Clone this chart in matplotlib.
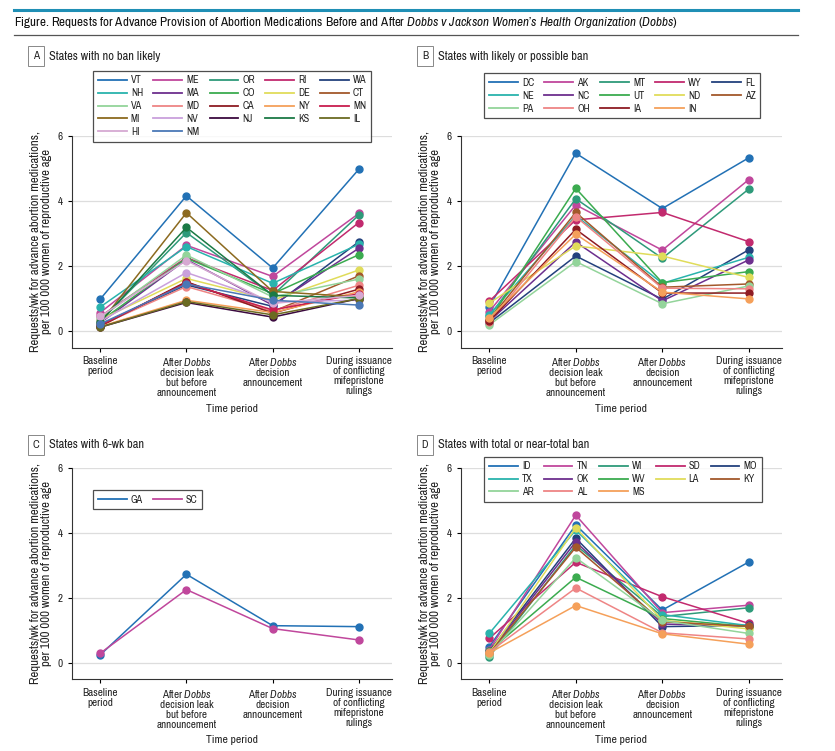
import matplotlib.pyplot as plt
from matplotlib import font_manager as fm
from matplotlib.lines import Line2D

# the journal uses a condensed face; take a narrow one if the system has it
narrow = None
for f in fm.fontManager.ttflist:
    if 'Narrow' in f.name or 'Condensed' in f.name:
        narrow = f.name
        break
    if f.stretch in ('condensed', 'semi-condensed') and f.name == 'DejaVu Sans':
        narrow = 'DejaVu Sans'
if narrow is None:
    fam = 'Liberation Sans'
    fs = 0.92
else:
    fam = narrow
    fs = 1.08
plt.rcParams['font.family'] = [fam, 'DejaVu Sans']
if narrow == 'DejaVu Sans':
    plt.rcParams['font.stretch'] = 'condensed'
plt.rcParams['mathtext.fontset'] = 'custom'
plt.rcParams['mathtext.rm'] = fam
plt.rcParams['mathtext.it'] = fam + ':italic'

periods = ['Baseline\nperiod',
           'After $\\mathit{Dobbs}$\ndecision leak\nbut before\nannouncement',
           'After $\\mathit{Dobbs}$\ndecision\nannouncement',
           'During issuance\nof conflicting\nmifepristone\nrulings']

# requests per week per 100 000 women, one list per state, 4 periods
states_a = ['VT', 'ME', 'OR', 'RI', 'WA', 'NH', 'MA', 'CO', 'DE', 'CT', 'VA',
            'MD', 'CA', 'NY', 'MN', 'MI', 'NV', 'NJ', 'KS', 'IL', 'HI', 'NM']
rates_a = [[0.98, 4.16, 1.94, 4.98],
           [0.57, 2.64, 1.68, 3.62],
           [0.30, 3.03, 1.10, 3.57],
           [0.45, 2.26, 1.25, 3.34],
           [0.20, 1.42, 0.76, 2.75],
           [0.74, 2.60, 1.47, 2.67],
           [0.25, 2.20, 0.80, 2.55],
           [0.30, 2.24, 1.15, 2.35],
           [0.35, 1.62, 0.95, 1.88],
           [0.15, 1.50, 0.60, 1.70],
           [0.40, 2.34, 1.05, 1.60],
           [0.18, 1.37, 0.62, 1.41],
           [0.15, 1.52, 0.55, 1.29],
           [0.14, 0.95, 0.57, 1.21],
           [0.18, 1.48, 0.65, 1.15],
           [0.25, 3.64, 1.22, 1.05],
           [0.30, 1.80, 0.90, 0.95],
           [0.12, 0.88, 0.43, 1.00],
           [0.28, 3.19, 1.10, 1.02],
           [0.12, 0.91, 0.50, 1.00],
           [0.45, 2.17, 0.85, 1.10],
           [0.22, 1.45, 0.95, 0.80]]

states_b = ['DC', 'AK', 'MT', 'WY', 'FL', 'NE', 'NC', 'UT', 'ND', 'AZ',
            'PA', 'OH', 'IA', 'IN']
rates_b = [[0.74, 5.47, 3.77, 5.33],
           [0.60, 3.88, 2.49, 4.66],
           [0.45, 4.07, 2.24, 4.37],
           [0.92, 3.42, 3.65, 2.75],
           [0.25, 2.31, 0.98, 2.50],
           [0.50, 3.55, 1.47, 2.27],
           [0.30, 2.74, 0.93, 2.19],
           [0.33, 4.39, 1.49, 1.83],
           [0.86, 2.62, 2.31, 1.65],
           [0.35, 3.65, 1.35, 1.45],
           [0.19, 2.14, 0.84, 1.39],
           [0.28, 3.52, 1.32, 1.30],
           [0.30, 3.13, 1.17, 1.17],
           [0.40, 2.98, 1.20, 0.99]]

states_c = ['GA', 'SC']
rates_c = [[0.24, 2.72, 1.14, 1.11],
           [0.29, 2.25, 1.05, 0.70]]

states_d = ['ID', 'TN', 'WI', 'SD', 'MO', 'TX', 'OK', 'WV', 'LA', 'KY',
            'AR', 'AL', 'MS']
rates_d = [[0.49, 4.24, 1.62, 3.10],
           [0.40, 4.54, 1.54, 1.77],
           [0.18, 3.62, 1.42, 1.69],
           [0.75, 3.09, 2.03, 1.21],
           [0.35, 3.83, 1.11, 1.15],
           [0.90, 4.08, 1.48, 1.14],
           [0.30, 3.72, 1.19, 1.13],
           [0.36, 2.63, 1.36, 1.11],
           [0.30, 4.15, 1.31, 1.04],
           [0.28, 3.55, 1.26, 1.12],
           [0.25, 3.23, 1.30, 0.90],
           [0.33, 2.30, 0.92, 0.73],
           [0.30, 1.76, 0.89, 0.57]]

colors_a = ['#2271b5', '#c0479c', '#2e9a7a', '#c22a6e', '#23417d', '#29b3ad',
            '#6d2f8e', '#3bab4f', '#e0dc5a', '#a3582b', '#93d49a', '#ee8585',
            '#8e1b23', '#f5a05a', '#c81e4e', '#8c6a1f', '#c9a0dc', '#3b0a3f',
            '#1b7a45', '#6b6b22', '#d6a9d2', '#4a78b6']
colors_b = colors_a[:14]
colors_c = colors_a[:2]
colors_d = colors_a[:13]
colors_d[12] = '#f5a05a'

W, H = 835, 751
fig = plt.figure( figsize=(W/100, H/100), dpi=100 )

def px_axes( x0, y0, x1, y1 ):
    return fig.add_axes( [x0/W, 1 - y1/H, (x1 - x0)/W, (y1 - y0)/H] )

def panel( ax, states, rates, colors, anchor ):
    for st, r, c in zip( states, rates, colors ):
        ax.plot( range(len(periods)), r, color=c, lw=1.1, marker='o',
                 markersize=5, label=st )
    ax.set_xlim( -0.33, 3.38 )
    ax.set_ylim( -0.51, 6 )
    ax.set_yticks( [0, 2, 4, 6] )
    ax.set_xticks( range(len(periods)) )
    ax.set_xticklabels( periods, fontsize=7.4*fs, color='#222222',
                        linespacing=1.0 )
    ax.tick_params( axis='y', labelsize=7.4*fs, labelcolor='#222222', length=3 )
    ax.tick_params( axis='x', length=3, pad=3 )
    ax.grid( axis='y', color='#dddddd', lw=0.9 )
    ax.set_axisbelow( True )
    for s in ['top', 'right']:
        ax.spines[s].set_visible( False )
    for s in ['left', 'bottom']:
        ax.spines[s].set_color( '#333333' )
    ax.set_xlabel( 'Time period', fontsize=7.8*fs, color='#222222', labelpad=4 )
    ax.set_ylabel( 'Requests/wk for advance abortion medications,\n'
                   'per 100 000 women of reproductive age',
                   fontsize=8.5*fs, color='#222222', labelpad=4,
                   linespacing=1.05 )
    # legend filled row by row, like the original
    ncol = min( 5, len(states) )
    n = len(states)
    order = [i for c in range(ncol) for i in range(c, n, ncol)]
    hs = [Line2D([], [], color=colors[i], lw=1.3) for i in order]
    ls = [states[i] for i in order]
    leg = ax.legend( hs, ls, ncol=ncol, loc='upper left', bbox_to_anchor=anchor,
                     fontsize=7.4, frameon=True, fancybox=False,
                     edgecolor='#222222', handlelength=2.8, handletextpad=0.4,
                     columnspacing=1.0, labelspacing=0.28, borderpad=0.45,
                     borderaxespad=0 )
    leg.get_frame().set_linewidth( 0.9 )
    for t in leg.get_texts():
        t.set_color( '#222222' )

ax_a = px_axes( 71.7, 136, 391.7, 347.7 )
ax_b = px_axes( 460.7, 136, 781.7, 347.7 )
ax_c = px_axes( 71.7, 467.7, 391.7, 679.3 )
ax_d = px_axes( 460.7, 467.7, 781.7, 679.3 )

panel( ax_a, states_a, rates_a, colors_a, (0.0675, 1.308) )
panel( ax_b, states_b, rates_b, colors_b, (0.0735, 1.296) )
panel( ax_c, states_c, rates_c, colors_c, (0.0675, 0.895) )
panel( ax_d, states_d, rates_d, colors_d, (0.0735, 1.052) )

# panel letters and headings
heads = [('A', 'States with no ban likely', 36, 56),
         ('B', 'States with likely or possible ban', 425, 56),
         ('C', 'States with 6-wk ban', 36, 445),
         ('D', 'States with total or near-total ban', 425, 445)]
for letter, txt, x, y in heads:
    fig.text( x/W, 1 - y/H, letter, fontsize=7.5*fs, fontweight='bold',
              ha='center', va='center', color='#222222',
              bbox=dict( boxstyle='square,pad=0.45', fc='white', ec='#888888', lw=0.7 ) )
    fig.text( (x + 13)/W, 1 - y/H, txt, fontsize=8.3*fs, ha='left', va='center',
              color='#222222' )

# title block
fig.add_artist( Line2D( [14/W, 798/W], [1 - 10/H, 1 - 10/H], color='#1f8fb5', lw=2.2 ) )
fig.add_artist( Line2D( [14/W, 798/W], [1 - 35/H, 1 - 35/H], color='#555555', lw=0.9 ) )
fig.text( 14/W, 1 - 22.5/H,
          'Figure. Requests for Advance Provision of Abortion Medications Before and After '
          '$\\mathit{Dobbs\\ v\\ Jackson\\ Women\u2019s\\ Health\\ Organization}$ ($\\mathit{Dobbs}$)',
          fontsize=8.75*fs, ha='left', va='center', color='#111111' )

plt.savefig( 'out.png', dpi=100 )
